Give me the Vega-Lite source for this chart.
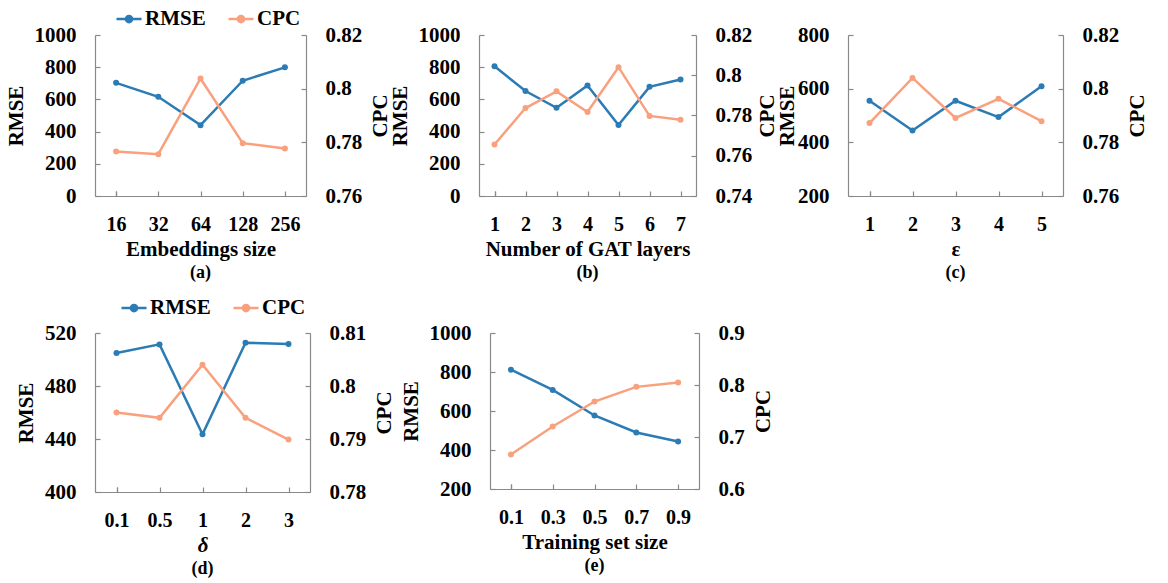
{
  "$schema": "https://vega.github.io/schema/vega-lite/v6.json",
  "background": "white",
  "padding": {"left": 5, "top": 5, "right": 5, "bottom": 5},
  "datasets": {
    "a": [
      {"x": "16", "RMSE": 703, "CPC": 0.7766},
      {"x": "32", "RMSE": 616, "CPC": 0.7756},
      {"x": "64", "RMSE": 440, "CPC": 0.8038},
      {"x": "128", "RMSE": 716, "CPC": 0.7797},
      {"x": "256", "RMSE": 799, "CPC": 0.7777}
    ],
    "b": [
      {"x": "1", "RMSE": 806, "CPC": 0.7656},
      {"x": "2", "RMSE": 652, "CPC": 0.7837},
      {"x": "3", "RMSE": 548, "CPC": 0.792},
      {"x": "4", "RMSE": 687, "CPC": 0.7817},
      {"x": "5", "RMSE": 441, "CPC": 0.804},
      {"x": "6", "RMSE": 678, "CPC": 0.7798},
      {"x": "7", "RMSE": 724, "CPC": 0.7779}
    ],
    "c": [
      {"x": "1", "RMSE": 555, "CPC": 0.7872},
      {"x": "2", "RMSE": 444, "CPC": 0.804},
      {"x": "3", "RMSE": 555, "CPC": 0.7891},
      {"x": "4", "RMSE": 494, "CPC": 0.7962},
      {"x": "5", "RMSE": 609, "CPC": 0.7879}
    ],
    "d": [
      {"x": "0.1", "RMSE": 504.9, "CPC": 0.795},
      {"x": "0.5", "RMSE": 511.4, "CPC": 0.794},
      {"x": "1", "RMSE": 443.5, "CPC": 0.804},
      {"x": "2", "RMSE": 512.7, "CPC": 0.794},
      {"x": "3", "RMSE": 511.7, "CPC": 0.7899}
    ],
    "e": [
      {"x": "0.1", "RMSE": 812, "CPC": 0.6665},
      {"x": "0.3", "RMSE": 708, "CPC": 0.7203},
      {"x": "0.5", "RMSE": 577, "CPC": 0.7682},
      {"x": "0.7", "RMSE": 490, "CPC": 0.7964},
      {"x": "0.9", "RMSE": 444, "CPC": 0.8047}
    ]
  },
  "spacing": 12,
  "vconcat": [
    {
      "spacing": -2,
      "hconcat": [
        {
          "width": 211, "height": 161,
          "title": {"text": "(a)"},
          "data": {"name": "a"},
          "encoding": {"x": {"field": "x", "type": "ordinal", "sort": null, "title": "Embeddings size"}},
          "layer": [
            {
              "mark": {"type": "line", "point": {"filled": true, "size": 36}},
              "encoding": {
                "y": {"field": "RMSE", "type": "quantitative", "scale": {"domain": [0, 1000], "nice": false, "zero": false}, "axis": {"values": [0, 200, 400, 600, 800, 1000], "title": "RMSE"}},
                "color": {"datum": "RMSE", "scale": {"domain": ["RMSE", "CPC"], "range": ["#2b7bb5", "#f9a07e"]}, "legend": {"legendX": 20, "legendY": -30}}
              }
            },
            {
              "mark": {"type": "line", "point": {"filled": true, "size": 36}},
              "encoding": {
                "y": {"field": "CPC", "type": "quantitative", "scale": {"domain": [0.76, 0.82], "nice": false, "zero": false}, "axis": {"values": [0.76, 0.78, 0.8, 0.82], "title": "CPC", "orient": "right", "titleAngle": 270, "titleBaseline": "top"}},
                "color": {"datum": "CPC"}
              }
            }
          ],
          "resolve": {"scale": {"y": "independent"}}
        },
        {
          "width": 217, "height": 161,
          "title": {"text": "(b)"},
          "data": {"name": "b"},
          "encoding": {"x": {"field": "x", "type": "ordinal", "sort": null, "title": "Number of GAT layers"}},
          "layer": [
            {
              "mark": {"type": "line", "point": {"filled": true, "size": 36}},
              "encoding": {
                "y": {"field": "RMSE", "type": "quantitative", "scale": {"domain": [0, 1000], "nice": false, "zero": false}, "axis": {"values": [0, 200, 400, 600, 800, 1000], "title": "RMSE"}},
                "color": {"datum": "RMSE", "scale": {"domain": ["RMSE", "CPC"], "range": ["#2b7bb5", "#f9a07e"]}, "legend": {"legendX": 27, "legendY": -30}}
              }
            },
            {
              "mark": {"type": "line", "point": {"filled": true, "size": 36}},
              "encoding": {
                "y": {"field": "CPC", "type": "quantitative", "scale": {"domain": [0.74, 0.82], "nice": false, "zero": false}, "axis": {"values": [0.74, 0.76, 0.78, 0.8, 0.82], "title": "CPC", "orient": "right", "titleAngle": 270, "titleBaseline": "top", "titlePadding": 5}},
                "color": {"datum": "CPC"}
              }
            }
          ],
          "resolve": {"scale": {"y": "independent"}}
        },
        {
          "width": 215, "height": 161,
          "title": {"text": "(c)"},
          "data": {"name": "c"},
          "encoding": {"x": {"field": "x", "type": "ordinal", "sort": null, "title": "ε"}},
          "layer": [
            {
              "mark": {"type": "line", "point": {"filled": true, "size": 36}},
              "encoding": {
                "y": {"field": "RMSE", "type": "quantitative", "scale": {"domain": [200, 800], "nice": false, "zero": false}, "axis": {"values": [200, 400, 600, 800], "title": "RMSE", "titlePadding": 0}},
                "color": {"datum": "RMSE", "scale": {"domain": ["RMSE", "CPC"], "range": ["#2b7bb5", "#f9a07e"]}, "legend": {"legendX": 34, "legendY": -30}}
              }
            },
            {
              "mark": {"type": "line", "point": {"filled": true, "size": 36}},
              "encoding": {
                "y": {"field": "CPC", "type": "quantitative", "scale": {"domain": [0.76, 0.82], "nice": false, "zero": false}, "axis": {"values": [0.76, 0.78, 0.8, 0.82], "title": "CPC", "orient": "right", "titleAngle": 270, "titleBaseline": "top"}},
                "color": {"datum": "CPC"}
              }
            }
          ],
          "resolve": {"scale": {"y": "independent"}}
        }
      ]
    },
    {
      "spacing": 5,
      "hconcat": [
        {
          "width": 215, "height": 159,
          "title": {"text": "(d)"},
          "data": {"name": "d"},
          "encoding": {"x": {"field": "x", "type": "ordinal", "sort": null, "title": "δ", "axis": {"titleFontStyle": "italic"}}},
          "layer": [
            {
              "mark": {"type": "line", "point": {"filled": true, "size": 36}},
              "encoding": {
                "y": {"field": "RMSE", "type": "quantitative", "scale": {"domain": [400, 520], "nice": false, "zero": false}, "axis": {"values": [400, 440, 480, 520], "title": "RMSE"}},
                "color": {"datum": "RMSE", "scale": {"domain": ["RMSE", "CPC"], "range": ["#2b7bb5", "#f9a07e"]}, "legend": {"legendX": 25, "legendY": -39}}
              }
            },
            {
              "mark": {"type": "line", "point": {"filled": true, "size": 36}},
              "encoding": {
                "y": {"field": "CPC", "type": "quantitative", "scale": {"domain": [0.78, 0.81], "nice": false, "zero": false}, "axis": {"values": [0.78, 0.79, 0.8, 0.81], "title": "CPC", "orient": "right", "titleAngle": 270, "titleBaseline": "top"}},
                "color": {"datum": "CPC"}
              }
            }
          ],
          "resolve": {"scale": {"y": "independent"}}
        },
        {
          "width": 209, "height": 156,
          "title": {"text": "(e)"},
          "data": {"name": "e"},
          "encoding": {"x": {"field": "x", "type": "ordinal", "sort": null, "title": "Training set size"}},
          "layer": [
            {
              "mark": {"type": "line", "point": {"filled": true, "size": 36}},
              "encoding": {
                "y": {"field": "RMSE", "type": "quantitative", "scale": {"domain": [200, 1000], "nice": false, "zero": false}, "axis": {"values": [200, 400, 600, 800, 1000], "title": "RMSE"}},
                "color": {"datum": "RMSE", "scale": {"domain": ["RMSE", "CPC"], "range": ["#2b7bb5", "#f9a07e"]}, "legend": {"legendX": 14, "legendY": -29}}
              }
            },
            {
              "mark": {"type": "line", "point": {"filled": true, "size": 36}},
              "encoding": {
                "y": {"field": "CPC", "type": "quantitative", "scale": {"domain": [0.6, 0.9], "nice": false, "zero": false}, "axis": {"values": [0.6, 0.7, 0.8, 0.9], "title": "CPC", "orient": "right", "titleAngle": 270, "titleBaseline": "top"}},
                "color": {"datum": "CPC"}
              }
            }
          ],
          "resolve": {"scale": {"y": "independent"}}
        }
      ]
    }
  ],
  "resolve": {"legend": {"color": "independent"}},
  "config": {
    "font": "Liberation Serif",
    "view": {"stroke": null},
    "axis": {
      "grid": false,
      "labelFont": "Liberation Serif", "labelFontWeight": "bold", "labelFontSize": 21, "labelColor": "black",
      "titleFont": "Liberation Serif", "titleFontWeight": "bold", "titleFontSize": 21, "titleColor": "black",
      "domainColor": "#898989", "tickColor": "#898989", "domainWidth": 1.2, "tickWidth": 1.2,
      "tickSize": -5, "labelPadding": 24, "titlePadding": 8, "format": "~r"
    },
    "axisX": {"tickBand": "extent", "labelAngle": 0, "labelPadding": 23, "labelFontSize": 20, "titlePadding": 4},
    "legend": {
      "orient": "none", "direction": "horizontal",
      "symbolType": "M-1,0L1,0M-0.25,0A0.25,0.25,0,1,1,0.25,0A0.25,0.25,0,1,1,-0.25,0Z",
      "symbolSize": 625, "symbolStrokeWidth": 2.5,
      "labelFont": "Liberation Serif", "labelFontWeight": "bold", "labelFontSize": 21, "labelColor": "black",
      "labelOffset": 2, "columnPadding": 17, "title": null
    },
    "title": {"font": "Liberation Serif", "fontSize": 18, "fontWeight": "bold", "orient": "bottom", "color": "black", "offset": 5},
    "line": {"strokeWidth": 2.5}
  }
}
